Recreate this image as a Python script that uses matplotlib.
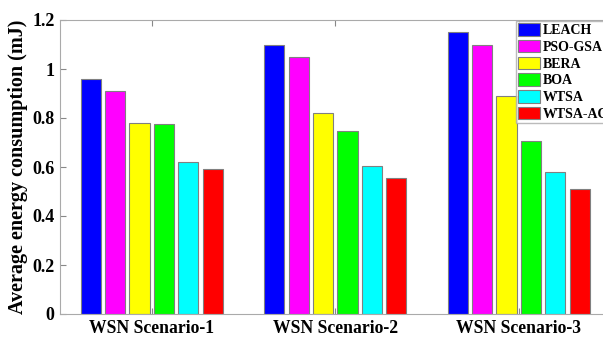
import matplotlib
matplotlib.use("Agg")
import matplotlib.pyplot as plt
import numpy as np

# values
scenarios = ['WSN Scenario-1', 'WSN Scenario-2', 'WSN Scenario-3']
methods = ['LEACH', 'PSO-GSA', 'BERA', 'BOA', 'WTSA', 'WTSA-AC']
colors = ['#0000ff', '#ff00ff', '#ffff00', '#00ff00', '#00ffff', '#ff0000']
leach = [0.96, 1.10, 1.15]
pso_gsa = [0.91, 1.05, 1.10]
bera = [0.78, 0.82, 0.89]
boa = [0.775, 0.745, 0.705]
wtsa = [0.62, 0.605, 0.578]
wtsa_ac = [0.59, 0.555, 0.51]
series = [leach, pso_gsa, bera, boa, wtsa, wtsa_ac]

plt.rcParams['font.family'] = ['Liberation Serif', 'DejaVu Serif']
plt.rcParams['font.weight'] = 'bold'

fig = plt.figure(figsize=(6.03, 3.39), dpi=100)
# axes right edge runs past the figure (reference is cropped on the right)
ax = fig.add_axes([60/603, 1-314/339, (610.5-60)/603, (314-20)/339])

x = np.arange(1, len(scenarios)+1)
n = len(series)
pitch = 0.8/n
w = pitch*0.82
for i, (vals, c, lab) in enumerate(zip(series, colors, methods)):
    off = (i - (n-1)/2)*pitch
    ax.bar(x+off, vals, w, color=c, edgecolor='#808080', linewidth=0.8, label=lab)

ax.set_xlim(0.5, 3.5)
ax.set_ylim(0, 1.2)
ax.set_xticks(x)
ax.set_xticklabels(scenarios, fontsize=12.7, fontweight='bold')
ax.set_yticks([0, 0.2, 0.4, 0.6, 0.8, 1, 1.2])
ax.set_yticklabels(['0', '0.2', '0.4', '0.6', '0.8', '1', '1.2'], fontsize=13, fontweight='bold')
ax.tick_params(direction='in', top=True, right=True, length=4, color='#888888', pad=4)
for s in ax.spines.values():
    s.set_color('#aaaaaa')
ax.set_ylabel('Average energy consumption (mJ)', fontsize=14.5, fontweight='bold', labelpad=3)

fig.legend(loc='upper left', bbox_to_anchor=(516/603, 1-21/339), borderaxespad=0,
           prop={'size': 10, 'weight': 'bold'}, frameon=True, fancybox=False,
           edgecolor='#aaaaaa', handlelength=1.6, handleheight=1.0,
           handletextpad=0.2, labelspacing=0.2, borderpad=0.15)

fig.savefig('out.png', dpi=100)
